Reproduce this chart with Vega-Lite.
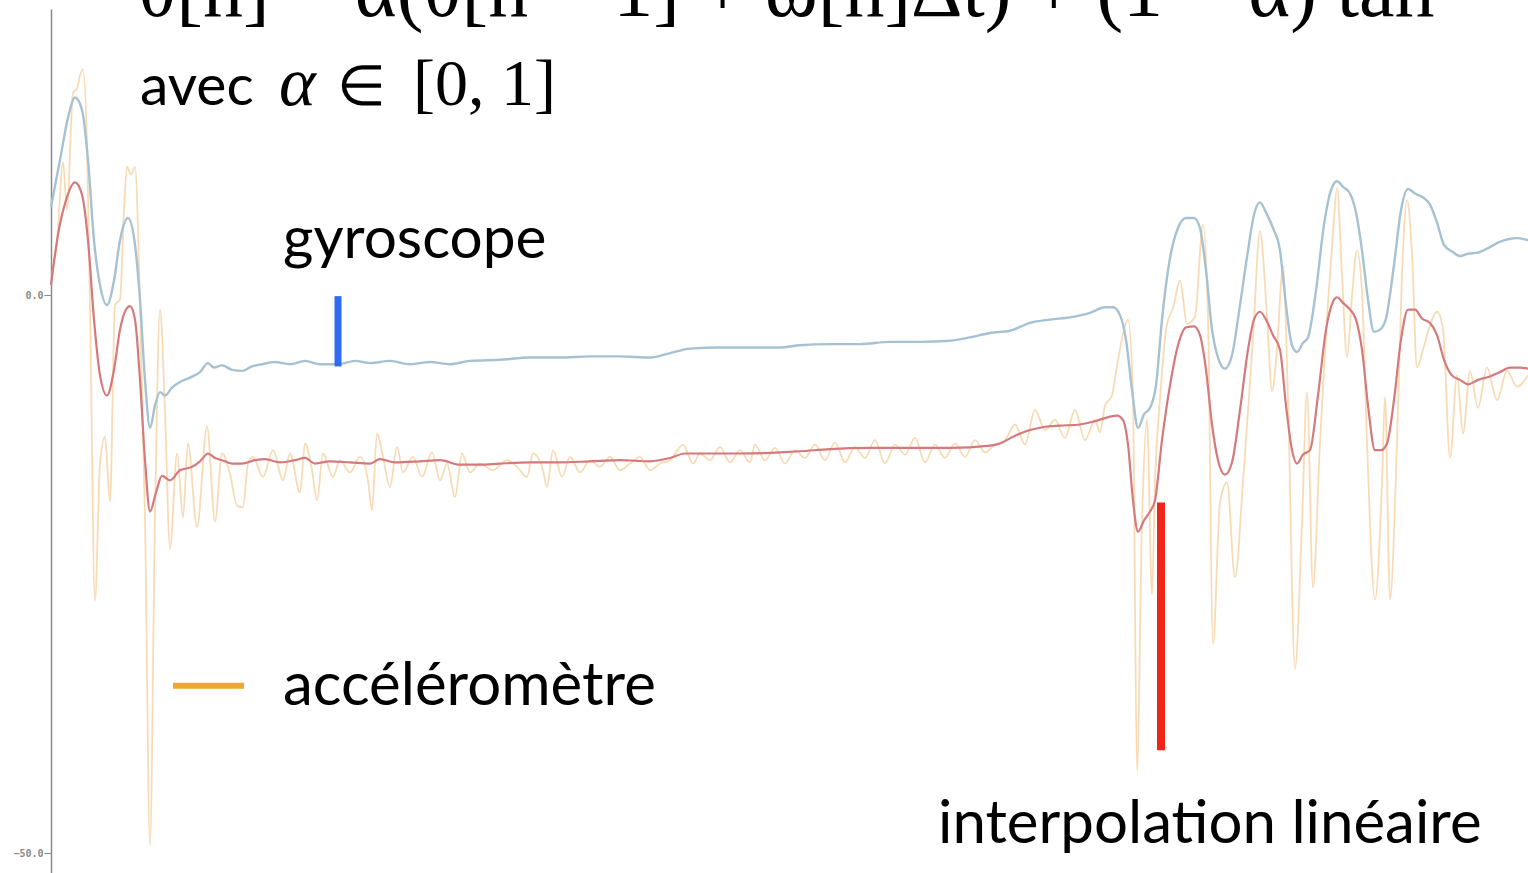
{
  "$schema": "https://vega.github.io/schema/vega-lite/v6.json",
  "autosize": {"type": "none"},
  "padding": {"left": 51, "top": 9, "right": 0, "bottom": 0},
  "width": 1477,
  "height": 864,
  "background": "white",
  "config": {"view": {"stroke": null}},
  "datasets": {
    "gyro": [
      {"t":51,"v":7.9},{"t":60,"v":12.1},{"t":68,"v":15.9},{"t":75,"v":17.7},{"t":82,"v":16.6},{"t":88,"v":12.1},{"t":94,"v":4.9},{"t":100,"v":0.9},{"t":107,"v":-0.9},{"t":114,"v":1.3},{"t":120,"v":4.9},{"t":128,"v":6.9},{"t":135,"v":4.5},{"t":140,"v":-0.4},{"t":145,"v":-7.6},{"t":150,"v":-11.9},{"t":155,"v":-9.9},{"t":160,"v":-8.7},{"t":165,"v":-9.0},{"t":172,"v":-8.3},{"t":180,"v":-7.8},{"t":190,"v":-7.4},{"t":200,"v":-6.9},{"t":208,"v":-6.1},{"t":214,"v":-6.5},{"t":222,"v":-6.3},{"t":232,"v":-6.7},{"t":242,"v":-6.8},{"t":252,"v":-6.4},{"t":262,"v":-6.2},{"t":275,"v":-6.0},{"t":290,"v":-6.2},{"t":305,"v":-5.9},{"t":320,"v":-6.2},{"t":338,"v":-6.2},{"t":355,"v":-5.9},{"t":370,"v":-6.1},{"t":390,"v":-5.9},{"t":410,"v":-6.2},{"t":430,"v":-6.0},{"t":450,"v":-6.2},{"t":470,"v":-5.9},{"t":500,"v":-5.8},{"t":530,"v":-5.6},{"t":560,"v":-5.6},{"t":590,"v":-5.5},{"t":620,"v":-5.5},{"t":650,"v":-5.6},{"t":670,"v":-5.2},{"t":690,"v":-4.8},{"t":720,"v":-4.7},{"t":750,"v":-4.7},{"t":780,"v":-4.7},{"t":800,"v":-4.5},{"t":830,"v":-4.4},{"t":860,"v":-4.4},{"t":890,"v":-4.2},{"t":920,"v":-4.2},{"t":950,"v":-4.1},{"t":970,"v":-3.8},{"t":990,"v":-3.4},{"t":1010,"v":-3.2},{"t":1030,"v":-2.5},{"t":1050,"v":-2.2},{"t":1070,"v":-2.0},{"t":1090,"v":-1.6},{"t":1105,"v":-1.1},{"t":1113,"v":-1.1},{"t":1120,"v":-1.8},{"t":1126,"v":-4.0},{"t":1132,"v":-8.5},{"t":1138,"v":-11.9},{"t":1144,"v":-10.7},{"t":1150,"v":-10.1},{"t":1156,"v":-8.1},{"t":1162,"v":-2.2},{"t":1170,"v":3.3},{"t":1178,"v":6.0},{"t":1186,"v":6.9},{"t":1194,"v":6.9},{"t":1200,"v":6.0},{"t":1206,"v":2.2},{"t":1212,"v":-3.1},{"t":1218,"v":-5.6},{"t":1225,"v":-6.6},{"t":1232,"v":-5.4},{"t":1240,"v":-0.9},{"t":1248,"v":4.0},{"t":1254,"v":7.2},{"t":1260,"v":8.3},{"t":1266,"v":7.4},{"t":1273,"v":6.0},{"t":1280,"v":4.0},{"t":1286,"v":-0.9},{"t":1292,"v":-4.5},{"t":1297,"v":-5.1},{"t":1303,"v":-4.3},{"t":1308,"v":-3.8},{"t":1316,"v":0.4},{"t":1324,"v":6.3},{"t":1331,"v":9.4},{"t":1337,"v":10.2},{"t":1343,"v":9.7},{"t":1350,"v":9.1},{"t":1356,"v":7.4},{"t":1362,"v":4.0},{"t":1368,"v":-0.4},{"t":1374,"v":-3.3},{"t":1380,"v":-3.1},{"t":1386,"v":-2.1},{"t":1394,"v":2.7},{"t":1401,"v":7.6},{"t":1408,"v":9.5},{"t":1415,"v":9.1},{"t":1422,"v":8.8},{"t":1430,"v":8.1},{"t":1437,"v":6.5},{"t":1444,"v":4.5},{"t":1452,"v":3.9},{"t":1460,"v":3.5},{"t":1468,"v":3.7},{"t":1478,"v":3.8},{"t":1488,"v":4.2},{"t":1498,"v":4.7},{"t":1508,"v":5.0},{"t":1518,"v":5.1},{"t":1528,"v":4.9}
    ],
    "filtre": [
      {"t":51,"v":0.9},{"t":58,"v":5.4},{"t":66,"v":8.5},{"t":75,"v":10.1},{"t":82,"v":9.0},{"t":88,"v":4.9},{"t":94,"v":-2.2},{"t":100,"v":-7.2},{"t":107,"v":-9.0},{"t":114,"v":-6.7},{"t":120,"v":-3.1},{"t":126,"v":-1.3},{"t":130,"v":-1.0},{"t":135,"v":-2.2},{"t":140,"v":-7.6},{"t":145,"v":-14.8},{"t":150,"v":-19.4},{"t":156,"v":-17.7},{"t":162,"v":-16.2},{"t":170,"v":-16.6},{"t":180,"v":-15.7},{"t":192,"v":-15.4},{"t":200,"v":-14.9},{"t":208,"v":-14.2},{"t":215,"v":-14.6},{"t":222,"v":-14.8},{"t":232,"v":-15.1},{"t":242,"v":-15.1},{"t":255,"v":-14.8},{"t":265,"v":-14.7},{"t":280,"v":-15.0},{"t":295,"v":-14.8},{"t":305,"v":-14.6},{"t":315,"v":-15.1},{"t":330,"v":-14.9},{"t":350,"v":-15.0},{"t":370,"v":-15.1},{"t":380,"v":-14.7},{"t":395,"v":-15.0},{"t":420,"v":-14.9},{"t":440,"v":-14.8},{"t":460,"v":-15.2},{"t":480,"v":-15.2},{"t":500,"v":-15.1},{"t":530,"v":-15.0},{"t":560,"v":-15.0},{"t":590,"v":-14.9},{"t":620,"v":-14.8},{"t":650,"v":-14.9},{"t":670,"v":-14.6},{"t":685,"v":-14.2},{"t":700,"v":-14.2},{"t":740,"v":-14.2},{"t":780,"v":-14.1},{"t":800,"v":-14.0},{"t":830,"v":-13.8},{"t":870,"v":-13.7},{"t":910,"v":-13.7},{"t":950,"v":-13.7},{"t":990,"v":-13.5},{"t":1000,"v":-13.3},{"t":1015,"v":-12.6},{"t":1030,"v":-12.1},{"t":1045,"v":-11.8},{"t":1060,"v":-11.7},{"t":1080,"v":-11.6},{"t":1095,"v":-11.3},{"t":1110,"v":-10.9},{"t":1117,"v":-10.8},{"t":1123,"v":-11.2},{"t":1128,"v":-13.4},{"t":1133,"v":-18.4},{"t":1138,"v":-21.2},{"t":1144,"v":-20.2},{"t":1150,"v":-19.4},{"t":1155,"v":-18.4},{"t":1162,"v":-13.0},{"t":1170,"v":-8.1},{"t":1178,"v":-4.5},{"t":1186,"v":-2.9},{"t":1194,"v":-2.8},{"t":1200,"v":-3.6},{"t":1206,"v":-6.7},{"t":1212,"v":-11.6},{"t":1218,"v":-14.8},{"t":1225,"v":-16.1},{"t":1232,"v":-15.0},{"t":1240,"v":-10.3},{"t":1248,"v":-4.9},{"t":1254,"v":-2.2},{"t":1260,"v":-1.5},{"t":1266,"v":-2.2},{"t":1273,"v":-3.6},{"t":1280,"v":-4.9},{"t":1286,"v":-9.9},{"t":1292,"v":-13.9},{"t":1297,"v":-15.1},{"t":1303,"v":-14.3},{"t":1310,"v":-13.9},{"t":1318,"v":-9.0},{"t":1326,"v":-3.1},{"t":1333,"v":-0.6},{"t":1337,"v":-0.2},{"t":1343,"v":-0.7},{"t":1350,"v":-1.3},{"t":1356,"v":-2.2},{"t":1362,"v":-4.9},{"t":1368,"v":-9.9},{"t":1375,"v":-13.9},{"t":1381,"v":-13.9},{"t":1387,"v":-13.3},{"t":1394,"v":-9.4},{"t":1401,"v":-4.0},{"t":1408,"v":-1.3},{"t":1415,"v":-1.3},{"t":1422,"v":-2.1},{"t":1430,"v":-2.5},{"t":1437,"v":-3.6},{"t":1444,"v":-5.8},{"t":1452,"v":-7.2},{"t":1460,"v":-7.6},{"t":1468,"v":-8.0},{"t":1478,"v":-7.6},{"t":1490,"v":-7.3},{"t":1500,"v":-6.9},{"t":1510,"v":-6.5},{"t":1520,"v":-6.5},{"t":1528,"v":-6.6}
    ],
    "accel": [
      {"t":52,"v":2.0},{"t":57,"v":4.8},{"t":63,"v":11.9},{"t":67,"v":7.7},{"t":73,"v":18.1},{"t":77,"v":18.5},{"t":80,"v":19.7},{"t":83,"v":20.2},{"t":87,"v":13.4},{"t":90,"v":-0.9},{"t":95,"v":-27.4},{"t":100,"v":-15.1},{"t":105,"v":-12.7},{"t":110,"v":-18.5},{"t":115,"v":-0.9},{"t":120,"v":-0.4},{"t":124,"v":7.6},{"t":127,"v":11.5},{"t":131,"v":10.8},{"t":135,"v":11.5},{"t":140,"v":-0.9},{"t":145,"v":-19.9},{"t":150,"v":-49.3},{"t":155,"v":-19.9},{"t":160,"v":-1.3},{"t":165,"v":-10.4},{"t":170,"v":-22.7},{"t":177,"v":-14.2},{"t":183,"v":-19.9},{"t":188,"v":-13.3},{"t":197,"v":-20.8},{"t":207,"v":-11.8},{"t":215,"v":-20.3},{"t":222,"v":-14.2},{"t":230,"v":-16.0},{"t":237,"v":-18.9},{"t":243,"v":-19.0},{"t":248,"v":-15.1},{"t":253,"v":-14.5},{"t":263,"v":-16.3},{"t":273,"v":-13.9},{"t":283,"v":-16.6},{"t":290,"v":-14.2},{"t":300,"v":-17.7},{"t":305,"v":-13.3},{"t":312,"v":-15.7},{"t":317,"v":-18.4},{"t":323,"v":-14.2},{"t":333,"v":-16.3},{"t":340,"v":-14.8},{"t":350,"v":-15.9},{"t":360,"v":-14.5},{"t":368,"v":-16.6},{"t":372,"v":-19.3},{"t":377,"v":-12.4},{"t":383,"v":-14.5},{"t":390,"v":-17.2},{"t":397,"v":-13.6},{"t":403,"v":-15.9},{"t":413,"v":-14.5},{"t":422,"v":-16.3},{"t":432,"v":-14.1},{"t":440,"v":-16.6},{"t":447,"v":-15.1},{"t":455,"v":-18.1},{"t":462,"v":-14.2},{"t":470,"v":-15.9},{"t":480,"v":-15.1},{"t":493,"v":-15.7},{"t":507,"v":-14.8},{"t":517,"v":-15.4},{"t":527,"v":-16.3},{"t":533,"v":-14.2},{"t":543,"v":-15.7},{"t":547,"v":-17.2},{"t":553,"v":-13.9},{"t":562,"v":-16.3},{"t":570,"v":-14.5},{"t":580,"v":-15.9},{"t":590,"v":-14.8},{"t":600,"v":-15.4},{"t":610,"v":-14.5},{"t":620,"v":-15.7},{"t":630,"v":-15.1},{"t":640,"v":-14.5},{"t":650,"v":-15.7},{"t":660,"v":-15.1},{"t":670,"v":-14.8},{"t":683,"v":-13.4},{"t":693,"v":-15.1},{"t":700,"v":-14.2},{"t":710,"v":-14.8},{"t":720,"v":-13.6},{"t":730,"v":-15.0},{"t":740,"v":-13.9},{"t":750,"v":-15.0},{"t":755,"v":-13.4},{"t":765,"v":-14.8},{"t":775,"v":-13.7},{"t":785,"v":-15.1},{"t":795,"v":-13.9},{"t":805,"v":-14.6},{"t":815,"v":-13.4},{"t":825,"v":-14.8},{"t":835,"v":-13.2},{"t":845,"v":-15.0},{"t":855,"v":-13.6},{"t":865,"v":-14.6},{"t":875,"v":-13.0},{"t":885,"v":-15.1},{"t":895,"v":-13.4},{"t":905,"v":-14.3},{"t":915,"v":-12.8},{"t":925,"v":-15.0},{"t":935,"v":-13.4},{"t":945,"v":-14.6},{"t":955,"v":-13.3},{"t":965,"v":-14.5},{"t":975,"v":-13.0},{"t":985,"v":-14.1},{"t":995,"v":-13.4},{"t":1005,"v":-13.0},{"t":1015,"v":-11.6},{"t":1025,"v":-13.4},{"t":1035,"v":-10.3},{"t":1045,"v":-12.1},{"t":1055,"v":-11.2},{"t":1065,"v":-12.8},{"t":1075,"v":-10.3},{"t":1085,"v":-13.0},{"t":1095,"v":-11.2},{"t":1100,"v":-12.3},{"t":1105,"v":-9.9},{"t":1112,"v":-9.0},{"t":1118,"v":-5.8},{"t":1124,"v":-3.1},{"t":1128,"v":-2.2},{"t":1133,"v":-9.3},{"t":1137,"v":-42.7},{"t":1142,"v":-20.4},{"t":1147,"v":-11.2},{"t":1152,"v":-26.8},{"t":1155,"v":-16.8},{"t":1160,"v":-9.3},{"t":1167,"v":-2.6},{"t":1173,"v":-1.2},{"t":1180,"v":1.3},{"t":1187,"v":-2.6},{"t":1195,"v":-1.9},{"t":1203,"v":6.3},{"t":1208,"v":-1.9},{"t":1213,"v":-31.3},{"t":1220,"v":-18.6},{"t":1227,"v":-16.8},{"t":1235,"v":-25.3},{"t":1243,"v":-16.8},{"t":1253,"v":-3.8},{"t":1260,"v":5.7},{"t":1267,"v":-1.9},{"t":1272,"v":-8.6},{"t":1277,"v":-4.8},{"t":1283,"v":2.6},{"t":1288,"v":-9.3},{"t":1295,"v":-33.5},{"t":1302,"v":-20.4},{"t":1307,"v":-8.7},{"t":1313,"v":-26.2},{"t":1320,"v":-13.2},{"t":1327,"v":-2.0},{"t":1333,"v":5.6},{"t":1337,"v":9.6},{"t":1342,"v":1.8},{"t":1347,"v":-5.6},{"t":1352,"v":-0.1},{"t":1357,"v":4.0},{"t":1362,"v":0.3},{"t":1367,"v":-13.2},{"t":1375,"v":-27.3},{"t":1382,"v":-16.8},{"t":1385,"v":-9.1},{"t":1390,"v":-27.3},{"t":1397,"v":-13.2},{"t":1402,"v":1.8},{"t":1407,"v":8.5},{"t":1412,"v":3.7},{"t":1417,"v":-6.5},{"t":1423,"v":-4.9},{"t":1430,"v":-2.7},{"t":1437,"v":-1.5},{"t":1443,"v":-3.0},{"t":1450,"v":-14.6},{"t":1457,"v":-7.2},{"t":1463,"v":-12.4},{"t":1470,"v":-6.8},{"t":1478,"v":-10.1},{"t":1487,"v":-6.5},{"t":1497,"v":-9.4},{"t":1507,"v":-6.8},{"t":1517,"v":-8.2},{"t":1528,"v":-7.2}
    ],
    "one": [{}]
  },
  "layer": [
    {
      "data": {"name": "accel"},
      "mark": {"type": "line", "color": "#f5c88e", "strokeWidth": 1.8, "opacity": 0.65, "interpolate": "monotone"},
      "encoding": {
        "x": {"field": "t", "type": "quantitative", "scale": {"domain": [51, 1528], "nice": false, "zero": false}, "axis": null},
        "y": {"field": "v", "type": "quantitative", "scale": {"domain": [-51.79, 25.63], "nice": false, "zero": false},
          "axis": {"values": [0, -50], "format": ".1f", "title": null, "grid": false, "labelFontSize": 10, "labelFontWeight": "bold", "labelColor": "#8a8a8a", "labelFont": "DejaVu Sans Mono", "domainColor": "#8a8a8a", "domainWidth": 1.5, "tickColor": "#8a8a8a", "tickSize": 7, "labelPadding": 1}}
      }
    },
    {
      "data": {"name": "gyro"},
      "mark": {"type": "line", "color": "#a6c2d2", "strokeWidth": 2.4, "interpolate": "monotone"},
      "encoding": {"x": {"field": "t", "type": "quantitative"}, "y": {"field": "v", "type": "quantitative"}}
    },
    {
      "data": {"name": "filtre"},
      "mark": {"type": "line", "color": "#d6797c", "strokeWidth": 2.2, "interpolate": "monotone"},
      "encoding": {"x": {"field": "t", "type": "quantitative"}, "y": {"field": "v", "type": "quantitative"}}
    },
    {
      "data": {"name": "one"},
      "mark": {"type": "rule", "color": "#2f6cf0", "strokeWidth": 7},
      "encoding": {"x": {"datum": 338}, "y": {"datum": -0.1}, "y2": {"datum": -6.4}}
    },
    {
      "data": {"name": "one"},
      "mark": {"type": "rule", "color": "#ee2518", "strokeWidth": 8},
      "encoding": {"x": {"datum": 1161}, "y": {"datum": -18.6}, "y2": {"datum": -40.8}}
    },
    {
      "data": {"name": "one"},
      "mark": {"type": "rule", "color": "#f0a82a", "strokeWidth": 6},
      "encoding": {"x": {"datum": 173}, "x2": {"datum": 244}, "y": {"datum": -35.0}}
    },
    {
      "data": {"name": "one"},
      "mark": {"type": "text", "text": "gyroscope", "font": "Lato", "fontSize": 58.5, "align": "left", "baseline": "alphabetic", "color": "#000000"},
      "encoding": {"x": {"datum": 283}, "y": {"datum": 3.3}}
    },
    {
      "data": {"name": "one"},
      "mark": {"type": "text", "text": "accéléromètre", "font": "Lato", "fontSize": 60, "align": "left", "baseline": "alphabetic", "color": "#000000"},
      "encoding": {"x": {"datum": 283}, "y": {"datum": -36.7}}
    },
    {
      "data": {"name": "one"},
      "mark": {"type": "text", "text": "interpolation linéaire", "font": "Lato", "fontSize": 60, "align": "left", "baseline": "alphabetic", "color": "#000000"},
      "encoding": {"x": {"datum": 938}, "y": {"datum": -49.1}}
    },
    {
      "data": {"name": "one"},
      "mark": {"type": "text", "text": "avec", "font": "Lato", "fontSize": 57, "align": "left", "baseline": "alphabetic", "color": "#000000"},
      "encoding": {"x": {"datum": 140}, "y": {"datum": 17.0}}
    },
    {
      "data": {"name": "one"},
      "mark": {"type": "text", "text": "α", "font": "Liberation Serif", "fontStyle": "italic", "fontSize": 70, "align": "left", "baseline": "alphabetic", "color": "#000000"},
      "encoding": {"x": {"datum": 279}, "y": {"datum": 17.0}}
    },
    {
      "data": {"name": "one"},
      "mark": {"type": "text", "text": "∈", "font": "Liberation Serif", "fontSize": 56, "align": "left", "baseline": "alphabetic", "color": "#000000"},
      "encoding": {"x": {"datum": 337}, "y": {"datum": 17.0}}
    },
    {
      "data": {"name": "one"},
      "mark": {"type": "text", "text": "[0, 1]", "font": "Liberation Serif", "fontSize": 66, "align": "left", "baseline": "alphabetic", "color": "#000000"},
      "encoding": {"x": {"datum": 413}, "y": {"datum": 17.0}}
    },
    {
      "data": {"name": "one"},
      "mark": {"type": "text", "text": "θ[n] = α(θ[n − 1] + ω[n]Δt) + (1 − α) tan", "font": "Liberation Serif", "fontSize": 80, "align": "left", "baseline": "alphabetic", "color": "#000000"},
      "encoding": {"x": {"datum": 138}, "y": {"datum": 25.0}}
    }
  ]
}
